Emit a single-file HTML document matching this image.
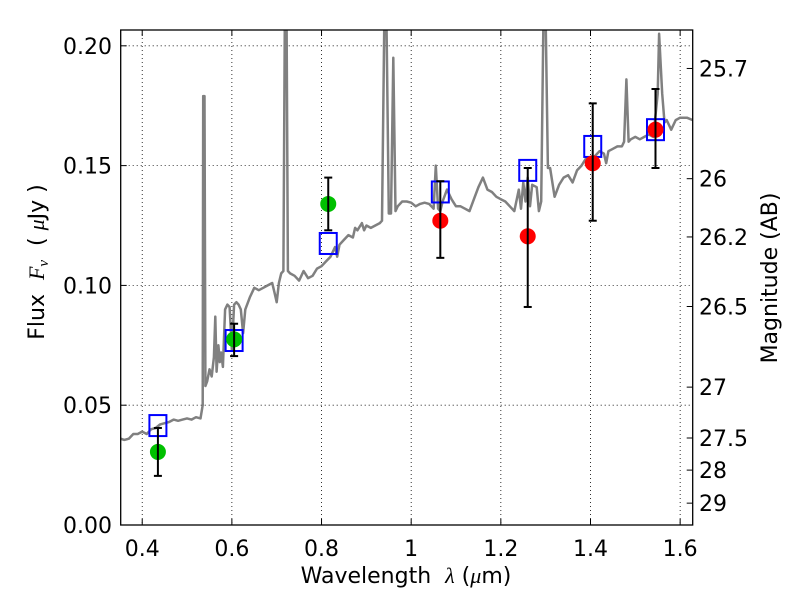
<!DOCTYPE html>
<html><head><meta charset="utf-8"><style>
body{margin:0;background:#fff}
svg text{font-family:"DejaVu Sans","Liberation Sans",sans-serif;fill:#000}
</style></head><body>
<svg id="c" width="800" height="600" xmlns="http://www.w3.org/2000/svg"></svg>
<script>
const xTicks=[0.4,0.6,0.8,1.0,1.2,1.4,1.6];
const xTickLabels=["0.4","0.6","0.8","1","1.2","1.4","1.6"];
const yTicks=[0,0.05,0.10,0.15,0.20];
const yTickLabels=["0.00","0.05","0.10","0.15","0.20"];
const magTicks=[25.7,26,26.2,26.5,27,27.5,28,29];
const magTickLabels=["25.7","26","26.2","26.5","27","27.5","28","29"];
const specLam=[0.352,0.36,0.37,0.38,0.39,0.40,0.41,0.42,0.43,0.44,0.45,0.46,0.47,0.48,0.49,0.50,0.51,0.52,0.53,0.535,0.536,0.539,0.541,0.545,0.55,0.555,0.56,0.563,0.566,0.57,0.573,0.576,0.58,0.585,0.59,0.595,0.60,0.605,0.61,0.615,0.62,0.625,0.63,0.64,0.65,0.66,0.67,0.68,0.69,0.695,0.70,0.705,0.71,0.715,0.718,0.722,0.725,0.73,0.74,0.75,0.76,0.77,0.78,0.79,0.80,0.81,0.82,0.83,0.835,0.84,0.85,0.86,0.87,0.875,0.88,0.89,0.895,0.90,0.91,0.92,0.93,0.935,0.94,0.945,0.95,0.955,0.96,0.965,0.97,0.98,0.99,1.0,1.01,1.02,1.03,1.04,1.05,1.055,1.06,1.065,1.07,1.08,1.09,1.10,1.11,1.12,1.13,1.14,1.15,1.16,1.17,1.18,1.19,1.20,1.21,1.22,1.23,1.24,1.245,1.25,1.255,1.26,1.265,1.27,1.28,1.285,1.29,1.295,1.30,1.305,1.31,1.32,1.33,1.34,1.35,1.36,1.37,1.38,1.39,1.40,1.41,1.42,1.43,1.435,1.44,1.45,1.46,1.47,1.475,1.48,1.485,1.49,1.50,1.51,1.52,1.53,1.54,1.55,1.553,1.56,1.565,1.57,1.58,1.59,1.60,1.615,1.628];
const specFlux=[0.036,0.0355,0.036,0.038,0.038,0.039,0.038,0.040,0.0405,0.042,0.0425,0.043,0.044,0.0435,0.044,0.0445,0.044,0.045,0.0445,0.05,0.179,0.179,0.058,0.06,0.065,0.062,0.07,0.087,0.064,0.075,0.068,0.072,0.066,0.090,0.092,0.091,0.073,0.092,0.093,0.092,0.090,0.080,0.090,0.095,0.099,0.098,0.099,0.100,0.101,0.097,0.093,0.101,0.105,0.106,0.21,0.21,0.106,0.105,0.104,0.102,0.106,0.103,0.104,0.107,0.108,0.110,0.112,0.116,0.112,0.117,0.119,0.121,0.120,0.124,0.123,0.126,0.123,0.125,0.124,0.125,0.126,0.127,0.21,0.21,0.130,0.13,0.195,0.131,0.133,0.135,0.135,0.1345,0.133,0.134,0.1345,0.134,0.132,0.150,0.132,0.131,0.135,0.140,0.136,0.133,0.133,0.132,0.131,0.136,0.141,0.145,0.140,0.139,0.137,0.136,0.135,0.133,0.131,0.140,0.132,0.143,0.135,0.145,0.133,0.142,0.141,0.131,0.135,0.21,0.21,0.149,0.149,0.137,0.142,0.145,0.146,0.143,0.148,0.150,0.153,0.151,0.154,0.156,0.155,0.151,0.156,0.157,0.158,0.158,0.160,0.186,0.160,0.161,0.162,0.161,0.162,0.163,0.162,0.180,0.205,0.180,0.168,0.169,0.165,0.169,0.170,0.170,0.169];
const greenLam=[0.435,0.605,0.815];
const greenFlux=[0.0305,0.0775,0.134];
const greenLo=[0.0205,0.0705,0.123];
const greenHi=[0.0405,0.084,0.145];
const sqLam=[0.435,0.605,0.815,1.065,1.26,1.405,1.545];
const sqFlux=[0.0415,0.077,0.1175,0.139,0.148,0.158,0.165];
const redLam=[1.065,1.26,1.405,1.545];
const redFlux=[0.127,0.1205,0.151,0.165];
const redLo=[0.1115,0.091,0.127,0.149];
const redHi=[0.1435,0.149,0.176,0.182];

const L=120.7,R=692.7,T=30,B=525,x0=0.352,x1=1.628,y0=0,y1=0.2066;
const X=v=>L+(v-x0)/(x1-x0)*(R-L);
const Y=v=>B-(v-y0)/(y1-y0)*(B-T);
const M=m=>Y(Math.pow(10,(23.9-m)/2.5));
const svg=document.getElementById('c');
const NS='http://www.w3.org/2000/svg';
function mk(tag,attrs,parent){const e=document.createElementNS(NS,tag);for(const k in attrs)e.setAttribute(k,attrs[k]);(parent||svg).appendChild(e);return e;}

const defs=mk('defs',{});
const cp=mk('clipPath',{id:'clip'},defs);
mk('rect',{x:L,y:T,width:R-L,height:B-T},cp);

const grid=mk('g',{});


xTicks.forEach(t=>{mk('line',{x1:X(t),x2:X(t),y1:T,y2:B,stroke:'#000','stroke-width':0.8,'stroke-dasharray':'1,3'},grid);});
yTicks.forEach(t=>{mk('line',{x1:L,x2:R,y1:Y(t),y2:Y(t),stroke:'#000','stroke-width':0.8,'stroke-dasharray':'1,3'},grid);});

const plot=mk('g',{'clip-path':'url(#clip)'});
let d='';specLam.forEach((l,i)=>{d+=(i?'L':'M')+X(l).toFixed(1)+','+Y(specFlux[i]).toFixed(1);});
const sp=mk('path',{d:d,fill:'none',stroke:'#808080','stroke-width':2.5,'stroke-linejoin':'round'},plot);



function errbar(l,lo,hi,g){const x=X(l);mk('line',{x1:x,x2:x,y1:Y(lo),y2:Y(hi),stroke:'#000','stroke-width':2},g);
[lo,hi].forEach(v=>mk('line',{x1:x-4,x2:x+4,y1:Y(v),y2:Y(v),stroke:'#000','stroke-width':2},g));}

sqLam.forEach((l,i)=>{const r=mk('rect',{x:X(l)-8.5,y:Y(sqFlux[i])-10.5,width:17,height:21,fill:'none',stroke:'#0000ff','stroke-width':2},plot);

});
greenLam.forEach((l,i)=>{const g=mk('g',{},plot);


mk('circle',{cx:X(l),cy:Y(greenFlux[i]),r:8,fill:'#00c000'},g);errbar(l,greenLo[i],greenHi[i],g);});
redLam.forEach((l,i)=>{const g=mk('g',{},plot);


mk('circle',{cx:X(l),cy:Y(redFlux[i]),r:8,fill:'#ff0000'},g);errbar(l,redLo[i],redHi[i],g);});

const fr=mk('rect',{x:L,y:T,width:R-L,height:B-T,fill:'none',stroke:'#000','stroke-width':1.3});



const xa=mk('g',{});


xTicks.forEach((t,i)=>{mk('line',{x1:X(t),x2:X(t),y1:B,y2:B-6,stroke:'#000'},xa);mk('line',{x1:X(t),x2:X(t),y1:T,y2:T+6,stroke:'#000'},xa);
const tx=mk('text',{x:X(t),y:B+31,'text-anchor':'middle','font-size':22},xa);tx.textContent=xTickLabels[i];});
const ya=mk('g',{});


yTicks.forEach((t,i)=>{mk('line',{x1:L,x2:L+6,y1:Y(t),y2:Y(t),stroke:'#000'},ya);
const tx=mk('text',{x:112,y:Y(t)+8,'text-anchor':'end','font-size':22},ya);tx.textContent=yTickLabels[i];});
const ma=mk('g',{});


magTicks.forEach((t,i)=>{mk('line',{x1:R,x2:R-6,y1:M(t),y2:M(t),stroke:'#000'},ma);
const tx=mk('text',{x:699,y:M(t)+8,'font-size':22},ma);tx.textContent=magTickLabels[i];});
</script>
<svg width="800" height="600" style="position:absolute;left:0;top:0" xmlns="http://www.w3.org/2000/svg">
<text x="406" y="583" text-anchor="middle" font-size="22" xml:space="preserve">Wavelength  <tspan font-family="Liberation Serif" font-style="italic">λ</tspan> (<tspan font-family="Liberation Serif" font-style="italic">μ</tspan>m)</text>
<text transform="translate(44,262) rotate(-90)" text-anchor="middle" font-size="22" xml:space="preserve">Flux  <tspan font-family="Liberation Serif" font-style="italic">F</tspan><tspan font-family="Liberation Serif" font-style="italic" font-size="15" dy="4">ν</tspan><tspan dy="-4">  ( </tspan><tspan font-family="Liberation Serif" font-style="italic">μ</tspan>Jy )</text>
<text transform="translate(777,278) rotate(-90)" text-anchor="middle" font-size="22">Magnitude (AB)</text>
</svg>
</body></html>
